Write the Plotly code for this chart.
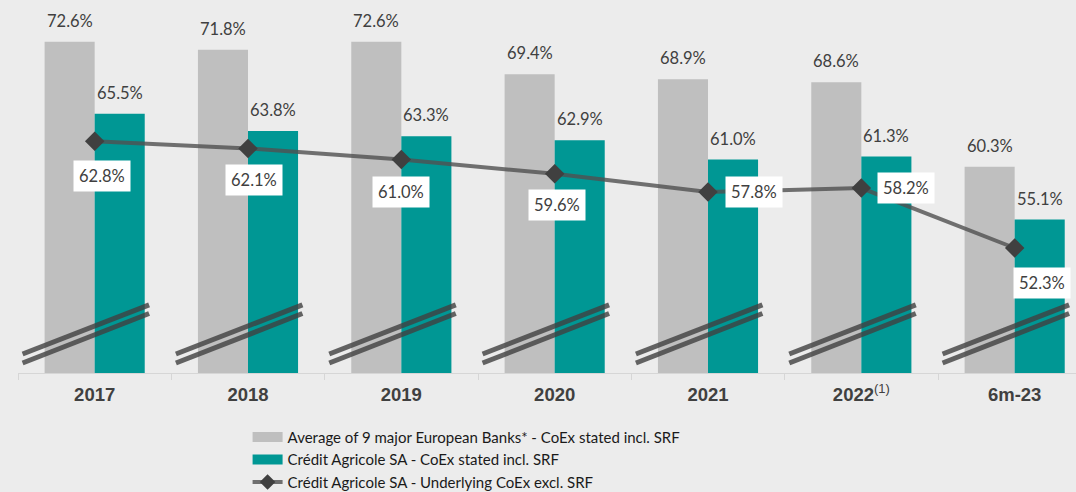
import plotly.graph_objects as go

categories = ["2017", "2018", "2019", "2020", "2021", "2022", "6m-23"]
tick_labels = ["<b>2017</b>", "<b>2018</b>", "<b>2019</b>", "<b>2020</b>", "<b>2021</b>",
               "<b>2022</b><sup>(1)</sup>", "<b>6m-23</b>"]
peers_avg = [72.6, 71.8, 72.6, 69.4, 68.9, 68.6, 60.3]
casa_stated = [65.5, 63.8, 63.3, 62.9, 61.0, 61.3, 55.1]
casa_underlying = [62.8, 62.1, 61.0, 59.6, 57.8, 58.2, 52.3]

series_names = [
    "Average of 9 major European Banks* - CoEx stated incl. SRF",
    "Crédit Agricole SA - CoEx stated incl. SRF",
    "Crédit Agricole SA - Underlying CoEx excl. SRF",
]

# label offsets (pixels) for the underlying-line labels (style only)
line_label_shift = [(7, -35), (6, -32), (0, -32), (2, -31), (46, 0), (45, 0), (27, -35)]

BG = "#ececec"
GREY = "#bfbfbf"
TEAL = "#009794"
TXT = "#404040"
LABEL_FONT = "Lato"

fig = go.Figure()
fig.add_trace(go.Bar(x=categories, y=peers_avg, name=series_names[0], showlegend=False,
                     marker=dict(color=GREY, line=dict(width=0))))
fig.add_trace(go.Bar(x=categories, y=casa_stated, name=series_names[1], showlegend=False,
                     marker=dict(color=TEAL, line=dict(width=0))))
fig.add_trace(go.Scatter(x=categories, y=casa_underlying, name=series_names[2],
                         mode="lines+markers", showlegend=False,
                         line=dict(color="rgba(80,80,80,0.8)", width=4),
                         marker=dict(symbol="diamond", size=15, color="#404040")))
# legend entries (wide swatches like the reference)
fig.add_trace(go.Scatter(x=[None], y=[None], name=series_names[0], mode="lines",
                         line=dict(color=GREY, width=10)))
fig.add_trace(go.Scatter(x=[None], y=[None], name=series_names[1], mode="lines",
                         line=dict(color=TEAL, width=10)))
fig.add_trace(go.Scatter(x=[None], y=[None], name=series_names[2], mode="lines+markers",
                         line=dict(color="rgba(80,80,80,0.8)", width=4),
                         marker=dict(symbol="diamond", size=12, color="#404040")))

annotations = []
for i, c in enumerate(categories):
    annotations.append(dict(x=i, y=peers_avg[i], text=f"{peers_avg[i]:.1f}%",
                            xref="x", yref="y", showarrow=False, xshift=-25, yshift=21,
                            font=dict(family=LABEL_FONT, size=16.5, color=TXT)))
    annotations.append(dict(x=i, y=casa_stated[i], text=f"{casa_stated[i]:.1f}%",
                            xref="x", yref="y", showarrow=False, xshift=25, yshift=21,
                            font=dict(family=LABEL_FONT, size=16.5, color=TXT)))
    dx, dy = line_label_shift[i]
    annotations.append(dict(x=i, y=casa_underlying[i], text=f"{casa_underlying[i]:.1f}%",
                            xref="x", yref="y", showarrow=False, xshift=dx, yshift=dy,
                            bgcolor="white", borderpad=5,
                            font=dict(family=LABEL_FONT, size=16.5, color=TXT)))

# axis-break marks (decorative double slashes) per category
shapes = []
for i in range(len(categories)):
    for (y0, y1) in [(41.87, 46.7), (40.98, 45.85)]:
        shapes.append(dict(type="line", xref="x", yref="y",
                           x0=i - 0.47, x1=i + 0.355, y0=y0, y1=y1,
                           line=dict(color="rgba(64,64,64,0.8)", width=5)))

fig.update_layout(
    width=1076, height=492,
    margin=dict(l=18, r=0, t=0, b=119, autoexpand=False),
    paper_bgcolor=BG, plot_bgcolor=BG,
    barmode="group", bargap=0.347, bargroupgap=0,
    showlegend=True,
    legend=dict(x=0.217, y=-0.128, xanchor="left", yanchor="top",
                orientation="v", bgcolor="rgba(0,0,0,0)",
                font=dict(family=LABEL_FONT, size=15, color="#1a1a1a"),
                tracegroupgap=0),
    annotations=annotations,
    shapes=shapes,
    xaxis=dict(type="category", range=[-0.5, 6.4],
               tickmode="array", tickvals=categories, ticktext=tick_labels,
               tickfont=dict(family="Liberation Sans", size=18.5, color=TXT),
               ticks="outside", tickson="boundaries", ticklen=6, tickcolor="#d6d6d6",
               ticklabelstandoff=5,
               showline=True, linecolor="#d6d6d6", linewidth=1,
               showgrid=False, zeroline=False),
    yaxis=dict(range=[40, 76.7], visible=False, showgrid=False, zeroline=False),
)

fig.write_html("out.html", config={"displayModeBar": False},
               post_script="document.body.style.margin='0';document.body.style.overflow='hidden';")
